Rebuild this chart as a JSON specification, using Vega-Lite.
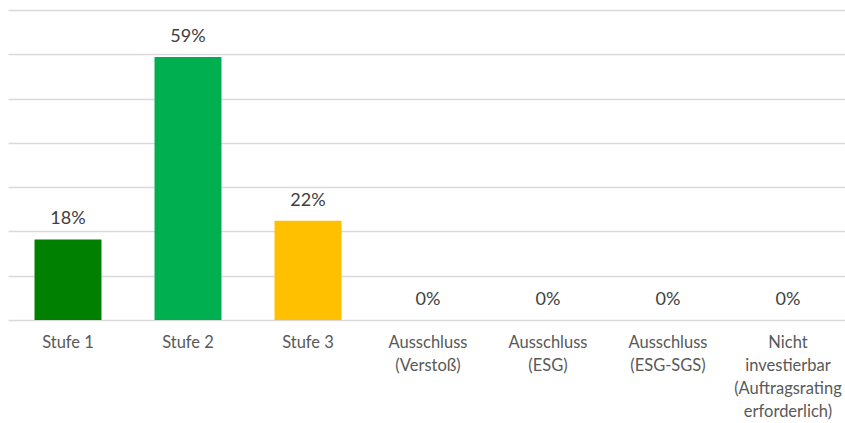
{
  "$schema": "https://vega.github.io/schema/vega-lite/v6.json",
  "autosize": "none",
  "width": 840,
  "height": 310,
  "padding": {"left": 8, "top": 10, "right": 0, "bottom": 103},
  "background": "white",
  "config": {"view": {"stroke": null}, "font": "Lato"},
  "data": {"values": [
    {"cat": "Stufe 1", "value": 18.2, "label": "18%", "color": "#008000"},
    {"cat": "Stufe 2", "value": 59.4, "label": "59%", "color": "#00B050"},
    {"cat": "Stufe 3", "value": 22.4, "label": "22%", "color": "#FFC000"},
    {"cat": "Ausschluss|(Verstoß)", "value": 0, "label": "0%", "color": "#A6A6A6"},
    {"cat": "Ausschluss|(ESG)", "value": 0, "label": "0%", "color": "#A6A6A6"},
    {"cat": "Ausschluss|(ESG-SGS)", "value": 0, "label": "0%", "color": "#A6A6A6"},
    {"cat": "Nicht|investierbar|(Auftragsrating|erforderlich)", "value": 0, "label": "0%", "color": "#A6A6A6"}
  ]},
  "encoding": {
    "x": {"field": "cat", "type": "nominal", "sort": null,
      "scale": {"paddingInner": 0.442, "paddingOuter": 0.221},
      "axis": {"title": null, "domain": false, "ticks": false, "labelAngle": 0,
        "labelExpr": "split(datum.label, '|')", "labelFontSize": 16.5, "labelColor": "#595959",
        "labelPadding": 14, "labelLineHeight": 23, "labelLimit": 300, "labelFont": "Lato"}},
    "y": {"field": "value", "type": "quantitative",
      "scale": {"domain": [0, 70]},
      "axis": {"title": null, "labels": false, "ticks": false, "domain": false,
        "values": [0, 10, 20, 30, 40, 50, 60, 70],
        "gridColor": "#D9D9D9", "gridWidth": 1.3}}
  },
  "layer": [
    {"mark": {"type": "bar"}, "encoding": {"color": {"field": "color", "type": "nominal", "scale": null}}},
    {"mark": {"type": "text", "baseline": "alphabetic", "dy": -15, "fontSize": 18, "color": "#404040", "font": "Lato"},
     "encoding": {"text": {"field": "label"}}}
  ]
}
